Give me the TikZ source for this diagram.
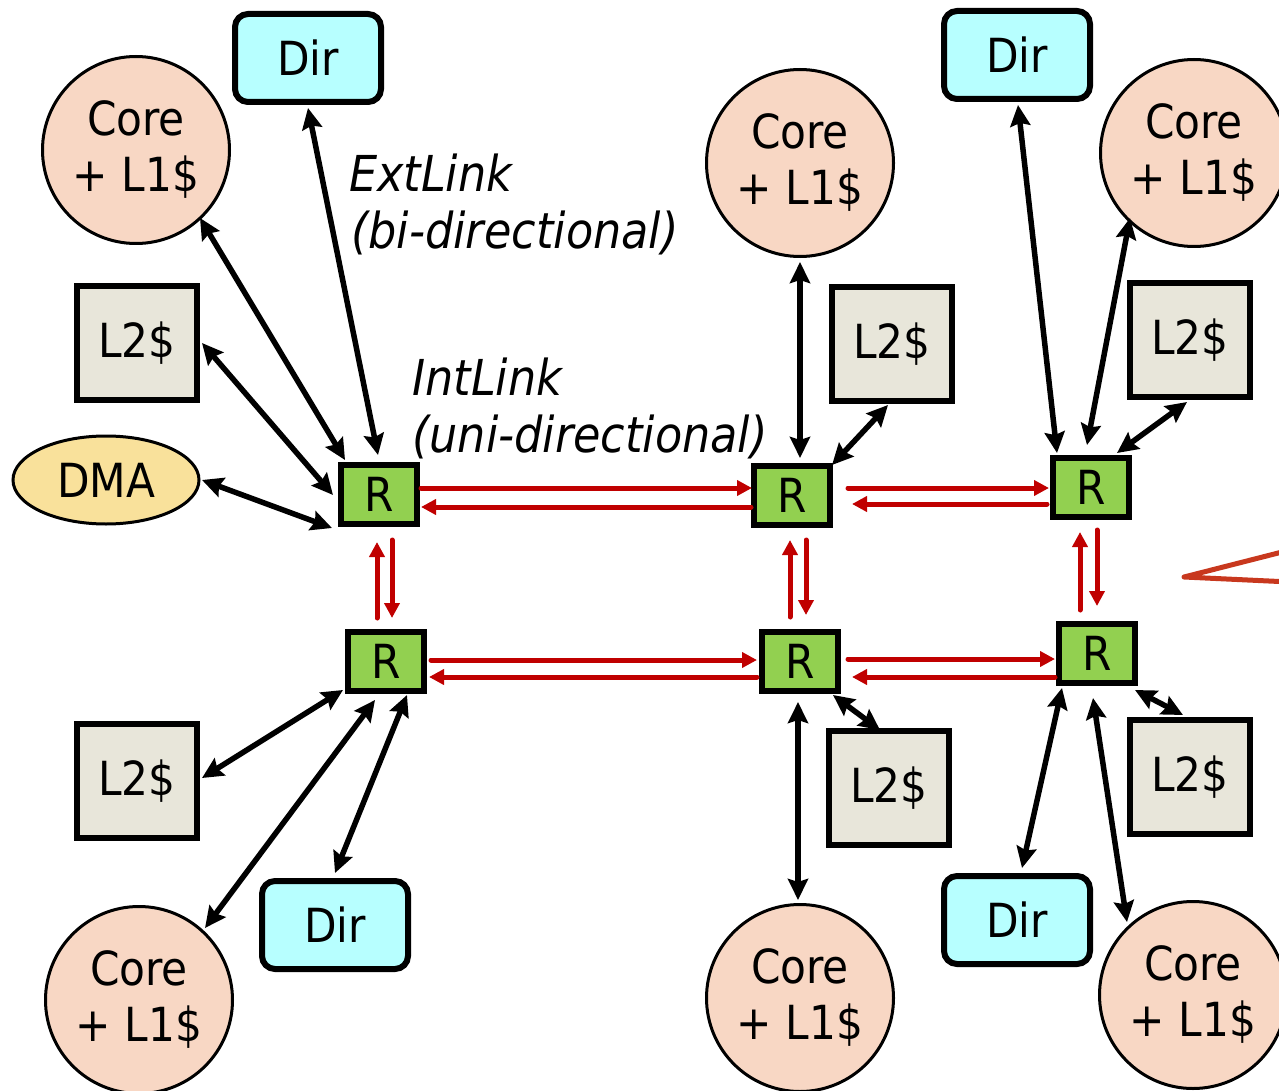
\documentclass[tikz,border=0pt]{standalone}
\usepackage{fontspec}
\setmainfont{DejaVu Sans Condensed}
\usetikzlibrary{arrows.meta,calc,shapes.geometric}

\definecolor{corefill}{HTML}{F8D7C4}
\definecolor{dirfill}{HTML}{B7FFFF}
\definecolor{l2fill}{HTML}{E8E6DA}
\definecolor{rfill}{HTML}{92D050}
\definecolor{dmafill}{HTML}{F9E19B}
\definecolor{linkred}{HTML}{C00000}
\definecolor{calloutred}{HTML}{C8381E}

\newcommand\bigf{\fontsize{47}{56}\selectfont}
\newcommand\lblf{\fontsize{49.5}{58}\selectfont}

\begin{document}
\begin{tikzpicture}[x=1pt,y=-1pt,
  every node/.style={font=\bigf, text=black},
  core/.style={circle, draw, line width=3pt, fill=corefill, minimum size=187pt, inner sep=0pt, align=center},
  dirbox/.style={draw, line width=6pt, rounded corners=13pt, fill=dirfill, minimum width=146pt, minimum height=88pt},
  l2box/.style={draw, line width=5.5pt, fill=l2fill, minimum width=120pt, minimum height=114pt},
  router/.style={draw, line width=6pt, fill=rfill, minimum width=76pt, minimum height=59pt, inner sep=0pt},
  dmanode/.style={ellipse, draw, line width=3pt, fill=dmafill, minimum width=186pt, minimum height=88pt, inner sep=0pt},
  ext/.style={line width=5.5pt, {Stealth[length=21pt,width=20pt,inset=3pt]}-{Stealth[length=21pt,width=20pt,inset=3pt]}},
  int/.style={line width=5pt, draw=linkred, line cap=round, -{Triangle[length=15pt,width=15pt,fill=linkred]}},
  lbl/.style={font=\lblf\itshape, anchor=base west, inner sep=0pt}
]
\useasboundingbox (0,0) rectangle (1279,1091);
\clip (0,0) rectangle (1279,1091);

% routers
\node[router] (R1) at (379,494) {R};
\node[router] (R2) at (792,495) {R};
\node[router] (R3) at (1091,487) {R};
\node[router] (R4) at (386,661) {R};
\node[router] (R5) at (800,661) {R};
\node[router] (R6) at (1097,653) {R};

% directories
\node[dirbox] (D1) at (308,58) {Dir};
\node[dirbox] (D3) at (1017,55) {Dir};
\node[dirbox] (D4) at (335,925) {Dir};
\node[dirbox] (D6) at (1017,920) {Dir};

% cores
\node[core] (C1) at (136,150) {Core\\+ L1\$};
\node[core] (C2) at (800,163) {Core\\+ L1\$};
\node[core] (C3) at (1194,153) {Core\\+ L1\$};
\node[core] (C4) at (139,1000) {Core\\+ L1\$};
\node[core] (C5) at (800,998) {Core\\+ L1\$};
\node[core] (C6) at (1193,995) {Core\\+ L1\$};

% L2 caches
\node[l2box] (L1) at (137,343) {L2\$};
\node[l2box] (L2) at (892,344) {L2\$};
\node[l2box] (L3) at (1190,340) {L2\$};
\node[l2box] (L4) at (137,781) {L2\$};
\node[l2box] (L5) at (889,788) {L2\$};
\node[l2box] (L6) at (1190,777) {L2\$};

% DMA
\node[dmanode] (DMA) at (106,480) {DMA};

% link labels
\node[lbl] (extA) at (349,192) {ExtLink};
\node[lbl] (extB) at (351,249) {(bi-directional)};
\node[lbl] (intA) at (412,395) {IntLink};
\node[lbl] (intB) at (412,452) {(uni-directional)};

% external links (bi-directional)
\draw[ext] ($(R1)+(-1,-39)$) -- ($(D1)+(0,50)$);
\draw[ext] ($(R1)+(-34,-34)$) -- ($(C1)+(64,68)$);
\draw[ext] ($(R1)+(-46,1)$) -- ($(L1)+(65,0)$);
\draw[ext] ($(R1)+(-47,34)$) -- ($(DMA)+(96,0)$);

\draw[ext] ($(R2)+(8,-37)$) -- ($(C2)+(0,99)$);
\draw[ext] ($(R2)+(40,-30)$) -- ($(L2)+(-4,61)$);

\draw[ext] ($(R3)+(-34,-34)$) -- ($(D3)+(1,50)$);
\draw[ext] ($(R3)+(-4,-42)$) -- ($(C3)+(-64,65)$);
\draw[ext] ($(R3)+(26,-34)$) -- ($(L3)+(-3,62)$);

\draw[ext] ($(R4)+(-43,29)$) -- ($(L4)+(65,-3)$);
\draw[ext] ($(R4)+(-11,39)$) -- ($(C4)+(66,-72)$);
\draw[ext] ($(R4)+(21,34)$) -- ($(D4)+(0,-52)$);

\draw[ext] ($(R5)+(-2,41)$) -- ($(C5)+(-2,-98)$);
\draw[ext] ($(R5)+(33,34)$) -- ($(L5)+(-9,-58)$);

\draw[ext] ($(R6)+(-35,35)$) -- ($(D6)+(5,-52)$);
\draw[ext] ($(R6)+(-4,45)$) -- ($(C6)+(-66,-73)$);
\draw[ext] ($(R6)+(38,37)$) -- ($(L6)+(-7,-62)$);

% internal links (uni-directional pairs)
\draw[int] ($(R1)+(42,-6)$) -- ($(R2)+(-40,-7)$);
\draw[int] ($(R2)+(-41,12)$) -- ($(R1)+(42,13)$);
\draw[int] ($(R2)+(56,-7)$) -- ($(R3)+(-42,1)$);
\draw[int] ($(R3)+(-44,17)$) -- ($(R2)+(60,9)$);
\draw[int] ($(R4)+(45,-1)$) -- ($(R5)+(-43,-1)$);
\draw[int] ($(R5)+(-43,16)$) -- ($(R4)+(43,16)$);
\draw[int] ($(R5)+(48,-2)$) -- ($(R6)+(-42,6)$);
\draw[int] ($(R6)+(-42,24)$) -- ($(R5)+(52,16)$);

\draw[int] ($(R4)+(-9,-43)$) -- ($(R1)+(-2,48)$);
\draw[int] ($(R1)+(13,46)$) -- ($(R4)+(6,-43)$);
\draw[int] ($(R5)+(-10,-44)$) -- ($(R2)+(-2,45)$);
\draw[int] ($(R2)+(14,45)$) -- ($(R5)+(6,-46)$);
\draw[int] ($(R6)+(-17,-43)$) -- ($(R3)+(-11,45)$);
\draw[int] ($(R3)+(6,43)$) -- ($(R6)+(0,-47)$);

% callout wedge at the right edge
\draw[calloutred, line width=5pt, line join=round, line cap=round]
  (1290,550) -- (1184,577) -- (1290,582);
\end{tikzpicture}
\end{document}
